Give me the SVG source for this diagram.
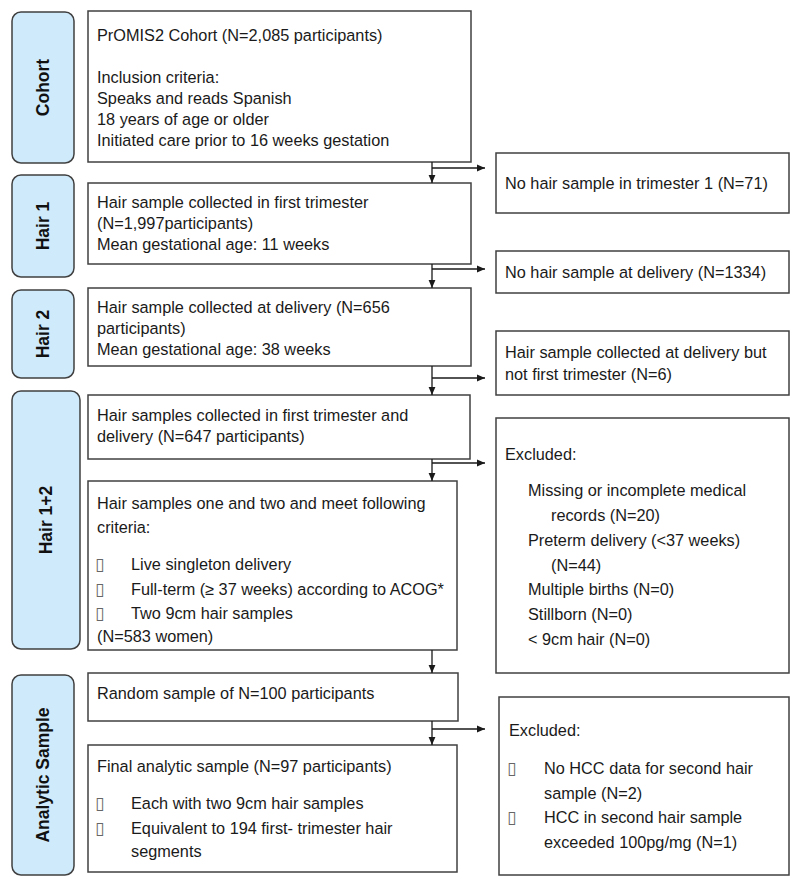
<svg xmlns="http://www.w3.org/2000/svg" width="800" height="886" viewBox="0 0 800 886">
<defs>
<marker id="ah" viewBox="0 0 8 8" refX="8" refY="4" markerWidth="8" markerHeight="8" markerUnits="userSpaceOnUse" orient="auto">
<path d="M0,0.6 L8,4 L0,7.4 Z" fill="#1a1a1a"/>
</marker>
<style>
.side{fill:#cfeafb;stroke:#404040;stroke-width:1.5}
.box{fill:#ffffff;stroke:#404040;stroke-width:1.5}
.t{font-family:"Liberation Sans",Arial,sans-serif;font-size:16.3px;fill:#1a1a1a}
.lab{font-family:"Liberation Sans",Arial,sans-serif;font-size:17.5px;font-weight:bold;fill:#111;text-anchor:middle}
.b{font-family:"DejaVu Sans",sans-serif;font-size:17px;fill:#666}
.c{fill:none;stroke:#1a1a1a;stroke-width:1.3}
</style>
</defs>
<rect width="800" height="886" fill="#ffffff"/>

<g id="lab-cohort">
<rect class="side" x="12" y="12" width="62" height="151" rx="9"/>
<text class="lab" transform="translate(49,87.5) rotate(-90)">Cohort</text>
</g>
<g id="lab-hair1">
<rect class="side" x="12" y="175" width="62" height="102" rx="9"/>
<text class="lab" transform="translate(49,226) rotate(-90)">Hair 1</text>
</g>
<g id="lab-hair2">
<rect class="side" x="12" y="290" width="62" height="88" rx="9"/>
<text class="lab" transform="translate(49,334) rotate(-90)">Hair 2</text>
</g>
<g id="lab-hair12">
<rect class="side" x="12" y="391" width="68" height="258" rx="9"/>
<text class="lab" transform="translate(52,520) rotate(-90)">Hair 1+2</text>
</g>
<g id="lab-analytic">
<rect class="side" x="12" y="675" width="62" height="200" rx="9"/>
<text class="lab" transform="translate(49,775) rotate(-90)">Analytic Sample</text>
</g>

<g id="cohort">
<rect class="box" x="88" y="11" width="383" height="151"/>
<text class="t" x="97" y="41">PrOMIS2 Cohort (N=2,085 participants)</text>
<text class="t" x="97" y="83">Inclusion criteria:</text>
<text class="t" x="97" y="104">Speaks and reads Spanish</text>
<text class="t" x="97" y="125">18 years of age or older</text>
<text class="t" x="97" y="146">Initiated care prior to 16 weeks gestation</text>
</g>

<g id="hair1">
<rect class="box" x="88" y="183" width="383" height="81"/>
<text class="t" x="97" y="208">Hair sample collected in first trimester</text>
<text class="t" x="97" y="229">(N=1,997participants)</text>
<text class="t" x="97" y="250">Mean gestational age: 11 weeks</text>
</g>

<g id="hair2">
<rect class="box" x="88" y="288" width="383" height="78"/>
<text class="t" x="97" y="313">Hair sample collected at delivery (N=656</text>
<text class="t" x="97" y="334">participants)</text>
<text class="t" x="97" y="355">Mean gestational age: 38 weeks</text>
</g>

<g id="hair12">
<rect class="box" x="88" y="395" width="382" height="64"/>
<text class="t" x="97" y="421">Hair samples collected in first trimester and</text>
<text class="t" x="97" y="442">delivery (N=647 participants)</text>
</g>

<g id="criteria">
<rect class="box" x="88" y="481" width="369" height="169"/>
<text class="t" x="97" y="509">Hair samples one and two and meet following</text>
<text class="t" x="97" y="533">criteria:</text>
<text class="b" x="95" y="570">▯</text>
<text class="t" x="131" y="570">Live singleton delivery</text>
<text class="b" x="95" y="595">▯</text>
<text class="t" x="131" y="595">Full-term (≥ 37 weeks) according to ACOG*</text>
<text class="b" x="95" y="619">▯</text>
<text class="t" x="131" y="619">Two 9cm hair samples</text>
<text class="t" x="97" y="642">(N=583 women)</text>
</g>

<g id="random">
<rect class="box" x="88" y="673" width="370" height="48"/>
<text class="t" x="97" y="699">Random sample of N=100 participants</text>
</g>

<g id="final">
<rect class="box" x="88" y="745" width="369" height="127"/>
<text class="t" x="97" y="772">Final analytic sample (N=97 participants)</text>
<text class="b" x="95" y="809">▯</text>
<text class="t" x="131" y="809">Each with two 9cm hair samples</text>
<text class="b" x="95" y="834">▯</text>
<text class="t" x="131" y="834">Equivalent to 194 first- trimester hair</text>
<text class="t" x="131" y="857">segments</text>
</g>

<g id="ex1">
<rect class="box" x="496" y="153" width="293" height="60"/>
<text class="t" x="505" y="189">No hair sample in trimester 1 (N=71)</text>
</g>

<g id="ex2">
<rect class="box" x="496" y="251" width="293" height="42"/>
<text class="t" x="505" y="278">No hair sample at delivery (N=1334)</text>
</g>

<g id="ex3">
<rect class="box" x="496" y="331" width="293" height="64"/>
<text class="t" x="505" y="358">Hair sample collected at delivery but</text>
<text class="t" x="505" y="380">not first trimester (N=6)</text>
</g>

<g id="ex4">
<rect class="box" x="496" y="418" width="293" height="255"/>
<text class="t" x="505" y="460">Excluded:</text>
<text class="t" x="528" y="496">Missing or incomplete medical</text>
<text class="t" x="551" y="521">records (N=20)</text>
<text class="t" x="528" y="546">Preterm delivery (&lt;37 weeks)</text>
<text class="t" x="551" y="571">(N=44)</text>
<text class="t" x="528" y="595">Multiple births (N=0)</text>
<text class="t" x="528" y="620">Stillborn (N=0)</text>
<text class="t" x="528" y="645">&lt; 9cm hair (N=0)</text>
</g>

<g id="ex5">
<rect class="box" x="499" y="697" width="290" height="178"/>
<text class="t" x="509" y="736">Excluded:</text>
<text class="b" x="507" y="774">▯</text>
<text class="t" x="544" y="774">No HCC data for second hair</text>
<text class="t" x="544" y="799">sample (N=2)</text>
<text class="b" x="507" y="823">▯</text>
<text class="t" x="544" y="823">HCC in second hair sample</text>
<text class="t" x="544" y="848">exceeded 100pg/mg (N=1)</text>
</g>

<g id="connectors">
<path class="c" d="M432,162 V183" marker-end="url(#ah)"/>
<path class="c" d="M432,168 H485" marker-end="url(#ah)"/>
<path class="c" d="M432,264 V288" marker-end="url(#ah)"/>
<path class="c" d="M432,269 H485" marker-end="url(#ah)"/>
<path class="c" d="M432,366 V395" marker-end="url(#ah)"/>
<path class="c" d="M432,378 H485" marker-end="url(#ah)"/>
<path class="c" d="M432,459 V481" marker-end="url(#ah)"/>
<path class="c" d="M432,463 H485" marker-end="url(#ah)"/>
<path class="c" d="M432,650 V673" marker-end="url(#ah)"/>
<path class="c" d="M432,721 V745" marker-end="url(#ah)"/>
<path class="c" d="M432,729 H485" marker-end="url(#ah)"/>
</g>
</svg>
